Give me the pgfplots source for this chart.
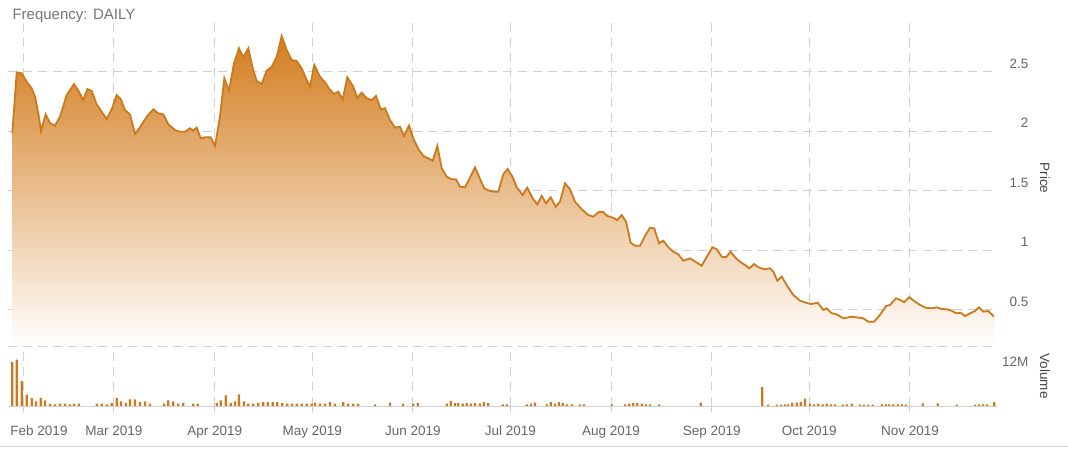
\documentclass[border=0pt]{standalone}
\usepackage{fontspec}
\setmainfont{Liberation Sans}
\usepackage{pgfplots}
\usepackage{pgfplotstable}
\pgfplotsset{compat=1.18}

\definecolor{lineorange}{RGB}{204,121,28}
\definecolor{fillorange}{RGB}{211,125,30}
\definecolor{fillmid}{RGB}{229,172,105}
\definecolor{gridgray}{RGB}{208,208,208}
\definecolor{labelgray}{RGB}{102,102,102}

% day of year, price
\pgfplotstableread{
d v
28.71 1.981
30.06 2.493
31.60 2.485
33.14 2.414
34.68 2.359
35.69 2.288
36.71 2.149
37.54 2.000
38.99 2.140
40.31 2.065
41.85 2.045
43.39 2.120
45.45 2.302
47.70 2.395
49.24 2.330
50.56 2.260
51.79 2.353
53.14 2.336
54.68 2.224
56.22 2.162
57.76 2.101
59.30 2.182
60.84 2.302
62.07 2.269
63.39 2.176
64.93 2.140
66.47 1.975
68.01 2.031
70.07 2.120
72.10 2.182
73.64 2.149
75.18 2.140
76.72 2.056
78.78 2.008
80.32 1.994
81.86 1.994
83.40 2.023
84.42 2.003
85.46 2.028
86.69 1.939
88.02 1.947
89.77 1.947
91.10 1.874
92.63 2.120
93.96 2.443
95.41 2.339
96.95 2.569
98.48 2.695
99.81 2.619
101.35 2.695
102.70 2.527
103.93 2.420
105.47 2.395
107.01 2.507
108.55 2.540
110.09 2.624
111.63 2.798
113.17 2.681
114.71 2.597
116.24 2.588
117.78 2.527
119.32 2.429
120.34 2.372
121.66 2.555
123.42 2.456
124.96 2.409
126.49 2.345
127.73 2.311
129.05 2.330
130.40 2.266
131.82 2.451
133.67 2.372
134.90 2.280
136.25 2.322
137.79 2.275
139.33 2.260
140.65 2.294
142.10 2.182
143.42 2.191
144.96 2.092
146.50 2.028
148.04 2.036
149.27 1.958
150.81 2.045
152.13 1.939
153.67 1.849
155.21 1.790
156.75 1.771
158.10 1.750
159.52 1.874
160.88 1.687
162.41 1.616
163.95 1.594
165.28 1.594
166.51 1.532
168.05 1.527
169.59 1.608
171.13 1.695
172.45 1.611
173.99 1.518
175.53 1.498
177.06 1.490
178.30 1.490
179.84 1.636
181.19 1.681
182.73 1.611
183.96 1.527
185.81 1.462
187.22 1.524
188.88 1.434
190.30 1.384
191.66 1.456
192.98 1.392
194.42 1.443
195.96 1.364
197.29 1.406
198.83 1.560
200.37 1.510
201.91 1.406
203.97 1.342
206.00 1.294
207.54 1.280
209.08 1.317
210.43 1.322
211.85 1.286
213.69 1.271
214.92 1.252
216.28 1.294
217.60 1.238
219.05 1.061
220.37 1.036
221.91 1.036
223.45 1.118
224.99 1.187
226.31 1.182
227.76 1.056
229.08 1.078
230.62 1.023
232.16 0.986
233.70 0.964
235.24 0.910
237.30 0.930
240.90 0.868
241.92 0.916
244.17 1.023
245.52 1.006
247.06 0.944
248.38 0.939
249.83 0.986
251.15 0.939
252.91 0.897
254.23 0.874
255.55 0.846
257.00 0.882
258.32 0.855
260.08 0.838
261.93 0.846
262.94 0.818
264.17 0.742
265.53 0.776
267.25 0.697
269.10 0.622
271.16 0.574
273.01 0.557
274.55 0.546
276.61 0.557
278.33 0.496
279.38 0.510
280.92 0.468
282.24 0.462
284.49 0.426
287.07 0.439
289.41 0.431
290.64 0.426
292.18 0.397
293.93 0.397
295.78 0.454
297.63 0.529
298.86 0.538
300.71 0.594
302.46 0.574
303.17 0.561
304.80 0.603
306.34 0.571
308.10 0.538
309.85 0.515
311.70 0.510
313.24 0.518
314.78 0.504
316.31 0.502
317.85 0.490
319.18 0.468
320.62 0.473
321.94 0.445
323.49 0.468
325.02 0.487
326.26 0.518
327.58 0.482
329.12 0.487
330.87 0.440
}\pricedata

% day of year, volume in millions
\pgfplotstableread{
d m
28.71 8.95
30.06 9.44
31.60 5.08
33.14 2.32
34.68 1.63
36.00 0.96
37.45 1.63
38.77 1.16
40.31 0.47
41.85 0.35
43.39 0.47
44.93 0.47
46.47 0.35
47.70 0.47
49.24 0.47
54.68 0.47
56.22 0.47
57.76 0.35
59.30 0.61
60.84 1.63
62.16 0.96
63.70 0.61
64.93 1.36
66.47 1.36
68.01 0.81
69.55 0.96
71.09 0.47
75.49 0.47
76.72 1.16
78.26 0.96
79.80 0.47
81.34 0.61
84.42 0.47
85.77 0.47
91.62 0.61
92.85 1.16
94.39 2.18
95.93 0.61
97.25 0.96
98.48 2.38
100.02 0.96
101.35 0.47
102.89 0.47
104.43 0.61
105.96 0.81
107.32 0.81
108.86 0.81
110.27 0.81
111.81 0.61
113.35 0.47
114.89 0.47
116.24 0.47
117.78 0.47
119.32 0.47
120.86 0.47
121.88 0.70
123.42 0.47
124.96 0.47
126.49 0.81
128.03 0.47
130.59 0.81
132.13 0.47
133.67 0.47
135.21 0.47
140.35 0.35
144.96 0.70
149.05 0.47
152.13 0.47
153.49 0.61
162.41 0.47
163.64 1.02
164.97 0.61
165.99 0.61
167.34 0.47
168.57 0.61
169.80 0.47
171.13 0.61
172.66 0.47
173.90 0.81
175.22 0.61
179.65 0.35
180.88 0.35
187.04 0.35
188.36 0.47
189.59 0.70
193.19 0.35
194.42 0.81
195.75 0.47
196.98 0.81
198.11 0.61
199.35 0.35
200.89 0.35
203.44 0.35
204.68 0.35
213.20 0.35
217.30 0.35
218.62 0.47
219.85 0.61
221.08 0.61
222.43 0.47
223.66 0.35
224.99 0.35
227.85 0.35
240.59 0.70
259.55 3.86
261.40 0.30
263.99 0.30
265.31 0.30
266.54 0.35
267.56 0.35
268.79 0.68
270.14 0.68
271.38 0.81
272.70 1.49
274.24 0.47
275.47 0.35
276.79 0.47
278.14 0.35
279.38 0.47
280.70 0.35
281.93 0.35
284.30 0.30
285.53 0.35
287.07 0.47
289.63 0.30
290.86 0.30
292.18 0.30
293.54 0.30
296.31 0.35
297.54 0.35
298.65 0.35
299.88 0.35
301.23 0.35
302.46 0.35
303.69 0.30
308.92 0.55
313.54 0.55
319.39 0.30
325.02 0.30
326.35 0.35
327.58 0.35
328.81 0.35
330.96 0.81
}\voldata

\pgfplotsset{
  panel/.style={
    scale only axis,
    width=989bp,
    anchor=south west,
    xmin=27.38, xmax=331.80,
    xtick={32,60,91,121,152,182,213,244,274,305},
    grid=major,
    major grid style={gridgray, line width=1bp, dash pattern=on 9bp off 6bp},
    axis line style={draw=none},
    tick label style={font=\fontsize{13.5bp}{16bp}\selectfont, text=labelgray},
    yticklabel pos=right,
    ytick style={draw=none},
  },
}

\begin{document}
\begin{tikzpicture}
\useasboundingbox (0,0) rectangle (1068bp,452bp);

% price panel
\begin{axis}[
    panel,
    at={(8bp,105bp)},
    height=324bp,
    ymin=0.1849, ymax=2.9076,
    ytick={0.5,1,1.5,2,2.5},
    yticklabels={0.5,1,1.5,2,2.5},
    yticklabel style={anchor=east, xshift=35bp, yshift=8bp},
    xticklabels={},
    xtick style={draw=none},
]
\addplot[draw=none, top color=fillorange, middle color=fillmid, bottom color=white] table[x=d, y=v] {\pricedata} \closedcycle;
\addplot[lineorange, line width=1.8bp] table[x=d, y=v] {\pricedata};
\end{axis}

% volume panel
\begin{axis}[
    panel,
    at={(8bp,46bp)},
    height=59bp,
    ymin=0, ymax=12,
    ytick={12},
    yticklabels={12M},
    yticklabel style={anchor=east, xshift=35bp, yshift=-15bp},
    extra y ticks={0},
    extra y tick labels={},
    extra y tick style={grid=major, major grid style={gridgray, solid, line width=1bp}},
    xticklabels={\hspace*{32bp}Feb 2019, Mar 2019, Apr 2019, May 2019, Jun 2019, Jul 2019, Aug 2019, Sep 2019, Oct 2019, Nov 2019},
    xtick pos=bottom,
    xtick align=outside,
    major tick length=6bp,
    xtick style={gridgray, line width=1bp},
    xticklabel style={yshift=-10bp, text height=10bp, text depth=3bp},
]
\addplot[ybar, bar width=2.2bp, fill=lineorange, draw=none] table[x=d, y=m] {\voldata};
\end{axis}

\node[anchor=west, font=\fontsize{15bp}{18bp}\selectfont, text={rgb,255:red,117;green,117;blue,117}] at (9bp,436bp) {Frequency: DAILY};
\node[rotate=-90, font=\fontsize{13.5bp}{16bp}\selectfont, text={rgb,255:red,68;green,68;blue,68}] at (1045bp,274bp) {Price};
\node[rotate=-90, font=\fontsize{13.5bp}{16bp}\selectfont, text={rgb,255:red,68;green,68;blue,68}] at (1045bp,76bp) {Volume};
\draw[gridgray, line width=1bp] (0,5bp) -- (1068bp,5bp);
\end{tikzpicture}
\end{document}
